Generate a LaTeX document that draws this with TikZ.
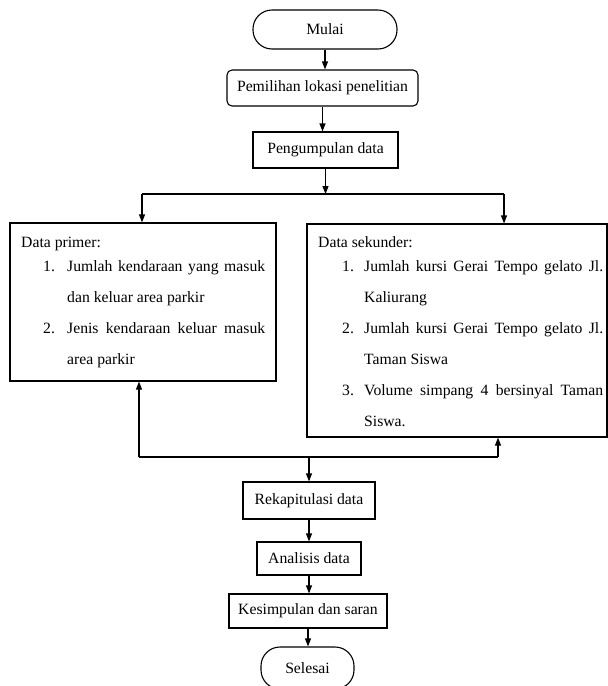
\documentclass[tikz,border=0pt]{standalone}
\usepackage{fontspec}
\setmainfont{Liberation Serif}
\usetikzlibrary{arrows.meta}
\begin{document}
\begin{tikzpicture}[x=1pt,y=-1pt,
  font=\fontsize{15.7}{18}\selectfont,
  box/.style={draw, line width=1.1pt, rectangle, inner sep=0pt},
  rbox/.style={box, rounded corners=5pt},
  term/.style={box, rounded corners=19pt},
  txt/.style={inner sep=0pt, anchor=base west},
  ln/.style={line width=1.1pt},
  arr/.style={line width=1.1pt, -{Triangle[length=8pt,width=6pt]}}]
\useasboundingbox (0,0) rectangle (608,686);
\clip (0,0) rectangle (608,686);
% main column top
\node[term, minimum width=144pt, minimum height=39pt] (mulai) at (325,29.5) {Mulai};
\node[rbox, minimum width=191pt, minimum height=36pt] (pilih) at (322.5,88) {Pemilihan lokasi penelitian};
\node[box, minimum width=145pt, minimum height=36pt] (kumpul) at (325.5,150) {Pengumpulan data};
% data boxes
\node[box, minimum width=266pt, minimum height=158pt] (prim) at (143,302) {};
\node[box, minimum width=300pt, minimum height=213pt] (sek) at (457,330.5) {};
\node[txt] (primtxt) at (21,247) {\parbox[t]{262pt}{\fontsize{15.7}{31}\selectfont
Data primer:\\[-7pt]
\hspace*{22pt}\makebox[24pt][l]{1.}\makebox[198pt][s]{Jumlah kendaraan yang masuk}\\
\hspace*{46pt}dan keluar area parkir\\
\hspace*{22pt}\makebox[24pt][l]{2.}\makebox[198pt][s]{Jenis kendaraan keluar masuk}\\
\hspace*{46pt}area parkir}};
\node[txt] (sektxt) at (318,247) {\parbox[t]{290pt}{\fontsize{15.7}{31}\selectfont
Data sekunder:\\[-7pt]
\hspace*{24pt}\makebox[22pt][l]{1.}\makebox[239pt][s]{Jumlah kursi Gerai Tempo gelato Jl.}\\
\hspace*{46pt}Kaliurang\\
\hspace*{24pt}\makebox[22pt][l]{2.}\makebox[239pt][s]{Jumlah kursi Gerai Tempo gelato Jl.}\\
\hspace*{46pt}Taman Siswa\\
\hspace*{24pt}\makebox[22pt][l]{3.}\makebox[239pt][s]{Volume simpang 4 bersinyal Taman}\\
\hspace*{46pt}Siswa.}};
% bottom column
\node[box, minimum width=132pt, minimum height=37pt] (rekap) at (309,500.5) {Rekapitulasi data};
\node[box, minimum width=104pt, minimum height=33pt] (anal) at (309,558.5) {Analisis data};
\node[box, minimum width=158pt, minimum height=34pt] (simp) at (308,611) {Kesimpulan dan saran};
\node[term, minimum width=93pt, minimum height=42pt] (selesai) at (307.5,668) {Selesai};
% junction coordinates
\coordinate (sl) at (142,194);
\coordinate (sr) at (504,194);
\coordinate (jl) at (139,457);
\coordinate (jr) at (498,457);
% connectors
\draw[arr] (mulai) -- (mulai |- pilih.north);
\draw[arr] (pilih) -- (pilih |- kumpul.north);
\draw[arr] (kumpul) -- (kumpul |- sl);
\draw[ln] (sl) -- (sr);
\draw[arr] (sl) -- (sl |- prim.north);
\draw[arr] (sr) -- (sr |- sek.north);
\draw[ln] (jl) -- (jr);
\draw[arr] (jl) -- (jl |- prim.south);
\draw[arr] (jr) -- (jr |- sek.south);
\draw[arr] (rekap.north |- jl) -- (rekap.north);
\draw[arr] (rekap) -- (rekap |- anal.north);
\draw[arr] (anal) -- (anal |- simp.north);
\draw[arr] (simp) -- (simp |- selesai.north);
\end{tikzpicture}
\end{document}
